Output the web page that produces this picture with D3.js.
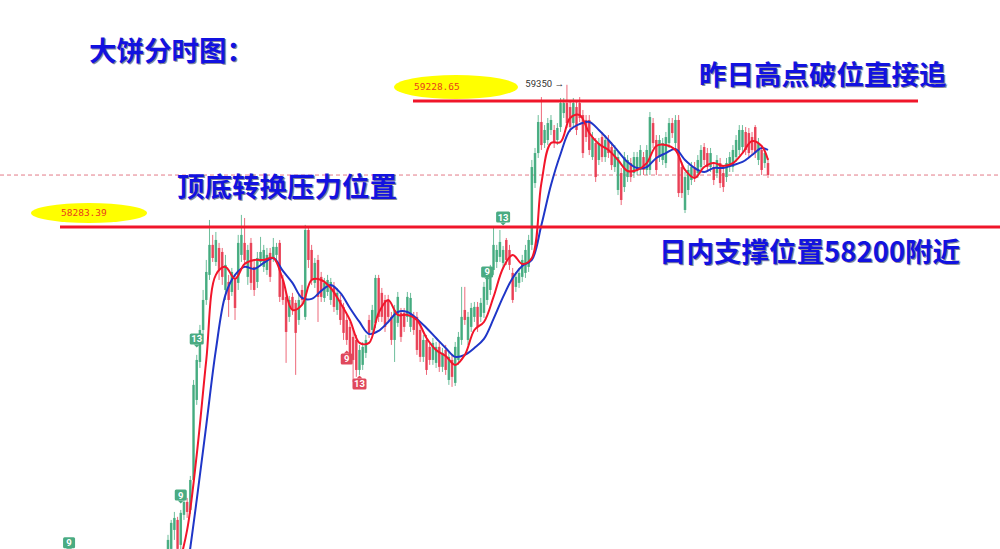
<!DOCTYPE html>
<html><head><meta charset="utf-8">
<script src="https://cdn.jsdelivr.net/npm/d3@7/dist/d3.min.js"></script>
<style>html,body{margin:0;padding:0;background:#fff;overflow:hidden}svg{display:block}</style>
</head><body>
<svg id="c" width="1000" height="549"></svg>
<script>
// ---- data (BTC intraday, prices) ----
const opens=[55786,55869,56011,56086,55899,56124,56221,56161,56386,56986,57271,57511,57736,57924,58149,58021,58126,58096,57811,57871,57796,57886,57864,58074,58164,57909,58164,57984,57871,58021,57984,57961,58089,58051,58074,58164,57886,57759,57609,57759,57714,57586,57811,57609,58261,58111,57864,58036,57909,57751,57796,57736,57834,57661,57736,57684,57586,57534,57459,57436,57211,57249,57339,57586,57511,57564,57901,57789,57736,57736,57609,57436,57564,57639,57639,57609,57534,57609,57609,57511,57309,57436,57384,57286,57264,57384,57234,57361,57136,57286,57114,57286,57436,57661,57436,57534,57609,57684,57609,57639,57736,57811,57961,58021,58059,58014,58186,58111,57939,57834,57864,57909,57939,57984,58149,58613,58838,59071,58913,58936,59011,59011,58936,59033,59138,59213,59183,59063,59183,59213,59123,59086,59086,58808,58913,58786,58958,58808,58936,58883,58733,58561,58688,58583,58658,58763,58688,58711,58711,58808,58711,58711,59063,58936,58808,58786,58763,58913,59063,58913,59086,58733,58411,58561,58636,58733,58688,58733,58883,58838,58733,58733,58688,58763,58688,58658,58733,58733,58808,58861,58883,58996,58988,58958,59033,58786,58861,58763,58763];
const closes=[55936,56064,56101,55869,56139,56221,56146,56386,57099,57286,57511,57736,57946,58149,58051,58186,57961,57909,57999,57736,57946,57676,58164,58224,58036,58111,57864,57811,58051,58096,58111,58074,57909,58134,58134,57759,57736,57496,57736,57661,57489,57736,57736,58261,58036,57886,58014,57759,57759,57864,57886,57871,57684,57789,57586,57489,57436,57309,57286,57211,57361,57384,57436,57489,57661,57901,57609,57609,57534,57609,57436,57661,57759,57459,57534,57759,57751,57511,57361,57309,57436,57211,57286,57414,57384,57234,57339,57211,57309,57159,57384,57459,57609,57586,57609,57676,57684,57534,57714,57834,57909,57961,58149,58111,58171,58111,58036,57999,57736,57909,57939,58036,58111,58186,58733,58838,59071,58898,59011,59063,59086,58913,59026,59213,59213,59063,59033,59213,59011,59101,58838,58958,58861,58958,58658,58913,58808,58936,58838,58748,58861,58808,58486,58808,58786,58658,58808,58808,58861,58711,58861,59108,58913,58711,58936,58913,58958,59063,58988,59086,58538,58538,58658,58711,58733,58658,58786,58861,58786,58733,58838,58636,58786,58613,58583,58763,58808,58861,58936,59011,59011,58861,58838,58861,58838,58913,58711,58838,58673];
const highs=[55974,56086,56146,56109,56161,56266,56251,56416,57136,57324,57549,57811,58036,58336,58224,58246,58164,58126,58074,57924,57976,57924,58224,58374,58351,58149,58201,58036,58096,58209,58149,58126,58126,58201,58164,58186,57924,57789,57766,57789,57736,57774,57849,58299,58276,58149,58051,58074,57946,57901,57924,57901,57871,57826,57774,57714,57624,57571,57511,57474,57399,57421,57474,57624,57699,57924,57924,57826,57774,57774,57646,57699,57796,57676,57676,57796,57789,57646,57646,57549,57474,57474,57421,57451,57421,57421,57376,57399,57346,57324,57421,57496,57834,57834,57646,57714,57721,57721,57751,57871,57946,57999,58276,58149,58261,58141,58201,58149,57976,57946,57976,58074,58149,58224,58786,58876,59123,59258,59048,59101,59123,59048,59063,59251,59251,59350,59221,59251,59221,59258,59161,59123,59123,58996,58951,58951,58996,58973,58973,58921,58898,58846,58726,58846,58823,58801,58846,58846,58898,58846,58898,59146,59101,58973,58973,58951,58996,59101,59101,59123,59123,58771,58696,58748,58771,58771,58823,58898,58913,58876,58876,58771,58823,58801,58726,58801,58846,58898,58973,59048,59048,59033,59026,58996,59048,58951,58898,58876,58801];
const lows=[55674,55786,55936,55786,55846,56086,56101,56131,56349,56949,57226,57474,57699,57886,58021,57991,57886,57849,57736,57609,57766,57586,57811,58021,57999,57849,57811,57766,57826,57999,57946,57924,57871,58021,58036,57721,57699,57264,57571,57624,57174,57549,57699,57586,57976,57849,57826,57571,57721,57721,57766,57699,57646,57624,57549,57436,57399,57271,57121,57159,57174,57211,57301,57451,57474,57526,57571,57571,57496,57571,57399,57271,57534,57421,57496,57571,57496,57474,57324,57271,57271,57174,57249,57249,57226,57196,57196,57174,57099,57084,57091,57249,57399,57549,57399,57496,57571,57496,57571,57601,57699,57774,57924,57976,58021,57976,57999,57961,57714,57796,57826,57871,57901,57946,58111,58576,58801,58861,58876,58898,58973,58876,58898,58996,59101,59026,58996,59026,58973,59071,58801,58921,58823,58786,58621,58748,58771,58771,58801,58711,58696,58523,58448,58546,58621,58621,58651,58673,58673,58673,58673,58673,58876,58673,58771,58748,58726,58876,58951,58876,58508,58501,58388,58523,58598,58621,58651,58696,58748,58696,58696,58598,58651,58576,58546,58621,58696,58696,58771,58823,58846,58823,58801,58823,58801,58748,58673,58726,58651];
const maFast=[55486,55711,56011,56574,57286,57924,57984,57894,58006,58036,58036,58051,57886,57661,57699,57886,57886,57826,57714,57586,57414,57414,57639,57736,57624,57624,57586,57451,57361,57316,57249,57324,57511,57571,57759,57976,58074,58006,58051,58613,58913,58921,59101,59123,58988,58906,58861,58786,58703,58711,58763,58891,58898,58861,58711,58651,58733,58763,58741,58763,58838,58928,58891,58786];
const maSlow=[54886,55261,55711,56236,56798,57361,57774,57924,57984,57969,58014,58051,57954,57864,57751,57744,57804,57849,57789,57676,57571,57481,57504,57571,57646,57646,57594,57526,57451,57376,57309,57324,57376,57444,57594,57759,57901,57991,58036,58298,58598,58831,59011,59056,59071,59011,58936,58853,58771,58726,58733,58801,58838,58868,58786,58726,58696,58726,58726,58748,58771,58823,58876,58861];
const levels={resistance:59228.65,support:58283.39};
const highMark=59350;
const titles=["大饼分时图：","昨日高点破位直接追","顶底转换压力位置","日内支撑位置58200附近"];
// sequence-count badges: candle index, price, label, side
const badges=[
 {i:-31,p:55915,t:"9",up:true},
 {i:4,p:56273,t:"9",up:true},
 {i:9,p:57444,t:"13",up:true},
 {i:56,p:57294,t:"9",up:false},
 {i:60,p:57106,t:"13",up:false},
 {i:100,p:57946,t:"9",up:true},
 {i:105,p:58358,t:"13",up:true}
];

const W=1000,H=549,n=closes.length;
const svg=d3.select("#c");
const x=d3.scaleLinear().domain([0,n-1]).range([168,768]);
const y=d3.scaleLinear().domain([55868,59986]).range([H,0]);
const GREEN="#3ea97b",RED="#e8384f";

// dashed last-price line
const last=closes[n-1];
svg.append("line").attr("x1",0).attr("x2",W).attr("y1",y(last)).attr("y2",y(last))
  .attr("stroke","#e37a88").attr("stroke-width",1).attr("stroke-dasharray","4,3");

// candles
const data=d3.range(n).map(i=>({i,o:opens[i],c:closes[i],h:highs[i],l:lows[i]}));
const g=svg.append("g");
g.selectAll("line.w").data(data).join("line").attr("class","w")
  .attr("x1",d=>x(d.i)).attr("x2",d=>x(d.i)).attr("y1",d=>y(d.h)).attr("y2",d=>y(d.l))
  .attr("stroke",d=>d.c>=d.o?GREEN:RED).attr("stroke-width",1).attr("opacity",0.75);
g.selectAll("rect.b").data(data).join("rect").attr("class","b")
  .attr("x",d=>x(d.i)-1.25).attr("width",2.5)
  .attr("y",d=>y(Math.max(d.o,d.c))).attr("height",d=>Math.max(1,Math.abs(y(d.o)-y(d.c))))
  .attr("fill",d=>d.c>=d.o?GREEN:RED).attr("opacity",0.9);

// moving averages
const maIdx=k=>Math.min(k*3,n-1);
const line=d3.line().x((d,k)=>x(maIdx(k))).y(d=>y(d)).curve(d3.curveCatmullRom);
svg.append("path").attr("d",line(maSlow)).attr("fill","none").attr("stroke","#1f36c8").attr("stroke-width",2);
svg.append("path").attr("d",line(maFast)).attr("fill","none").attr("stroke","#f2152a").attr("stroke-width",2);

// level lines
svg.append("line").attr("x1",413).attr("x2",918).attr("y1",y(levels.resistance)).attr("y2",y(levels.resistance))
  .attr("stroke","#f0162a").attr("stroke-width",3);
svg.append("line").attr("x1",60).attr("x2",W).attr("y1",y(levels.support)).attr("y2",y(levels.support))
  .attr("stroke","#f0162a").attr("stroke-width",3);

// yellow ellipse labels
function ell(cx,cy,rx,ry,txt,tx){
  svg.append("ellipse").attr("cx",cx).attr("cy",cy).attr("rx",rx).attr("ry",ry).attr("fill","#ffff00");
  svg.append("text").attr("x",tx).attr("y",cy+3.5).attr("fill","#e8401c")
   .attr("font-family","DejaVu Sans Mono, monospace").attr("font-size",9.5).text(txt);
}
ell(456,y(levels.resistance)-14,62,12,levels.resistance.toFixed(2),414);
ell(89,y(levels.support)-14,58,10,levels.support.toFixed(2),61);

// high annotation
svg.append("text").attr("x",x(125)-3).attr("y",y(highMark)+2).attr("text-anchor","end")
  .attr("font-family","Roboto, sans-serif").attr("font-size",9.5).attr("fill","#333").text(highMark+" →");

// badges
badges.forEach(b=>{
  const cx=x(b.i),cy=y(b.p),w=b.t.length>1?14:12,h=11,col=b.up?"#4aab82":"#e0485c";
  svg.append("rect").attr("x",cx-w/2).attr("y",cy-h/2).attr("width",w).attr("height",h).attr("rx",1.5).attr("fill",col);
  const py=b.up?cy+h/2:cy-h/2, d=b.up?3:-3;
  svg.append("path").attr("d",`M${cx-3},${py}L${cx+3},${py}L${cx},${py+d}Z`).attr("fill",col);
  svg.append("text").attr("x",cx).attr("y",cy+3.5).attr("text-anchor","middle").attr("fill","#fff")
    .attr("font-family","Roboto, sans-serif").attr("font-weight",700).attr("font-size",9.5).text(b.t);
});

// titles
function title(txt,tx,ty){
  const f="'Noto Sans CJK SC', sans-serif";
  svg.append("text").attr("x",tx+1.2).attr("y",ty+1.2).attr("fill","#3a3a55").attr("opacity",0.6)
   .attr("font-family",f).attr("font-weight",700).attr("font-size",27.5).text(txt);
  svg.append("text").attr("x",tx).attr("y",ty).attr("fill","#1212e0")
   .attr("font-family",f).attr("font-weight",700).attr("font-size",27.5).text(txt);
}
title(titles[0],89,61);
title(titles[1],699,85);
title(titles[2],177,197);
title(titles[3],659,262);
</script>
</body></html>
